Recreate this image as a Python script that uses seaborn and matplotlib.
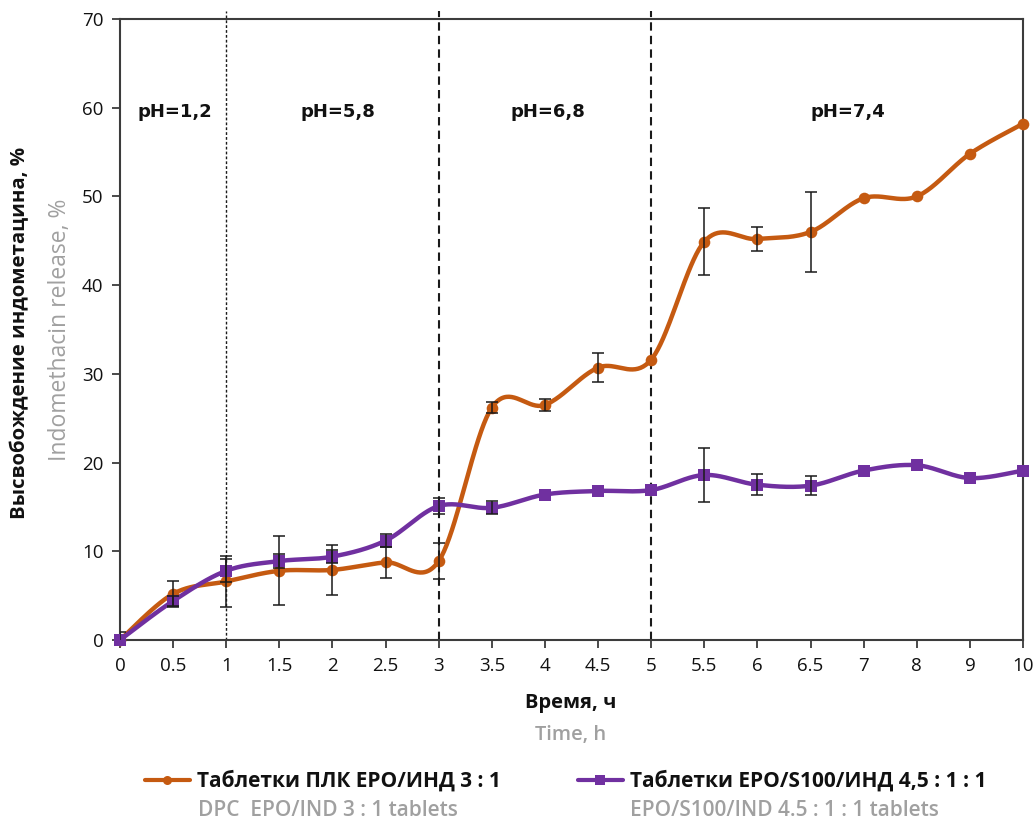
import numpy as np
import pandas as pd
import seaborn as sns
import matplotlib
matplotlib.use("Agg")
import matplotlib.pyplot as plt
from matplotlib.lines import Line2D

# ---------------- data ----------------
time_labels = ["0", "0.5", "1", "1.5", "2", "2.5", "3", "3.5", "4", "4.5",
               "5", "5.5", "6", "6.5", "7", "8", "9", "10"]
release_dpc = [0, 5.2, 6.6, 7.8, 7.9, 8.75, 8.9, 26.2, 26.5, 30.7,
               31.6, 44.9, 45.2, 46.0, 49.8, 50.0, 54.8, 58.2]
err_dpc = [0.9, 1.5, 2.9, 3.9, 2.85, 1.75, 2.05, 0.6, 0.65, 1.6,
           0, 3.8, 1.35, 4.5, 0, 0, 0, 0]
release_s100 = [0, 4.4, 7.8, 8.9, 9.4, 11.2, 15.1, 14.9, 16.4, 16.8,
                16.9, 18.6, 17.5, 17.4, 19.1, 19.7, 18.25, 19.1]
err_s100 = [0, 0.6, 1.3, 0.8, 0.7, 0.7, 0.9, 0.75, 0, 0,
            0, 3.0, 1.2, 1.05, 0, 0, 0, 0]

legend_ru = ["Таблетки ПЛК EPO/ИНД 3 : 1", "Таблетки EPO/S100/ИНД 4,5 : 1 : 1"]
legend_en = ["DPC  EPO/IND 3 : 1 tablets", "EPO/S100/IND 4.5 : 1 : 1 tablets"]
phase_bounds = ["1", "3", "5"]
phase_labels = ["pH=1,2", "pH=5,8", "pH=6,8", "pH=7,4"]
phase_label_pos = [1.03, 4.1, 8.05, 13.7]

ORANGE = "#C55A11"
PURPLE = "#7030A0"
GRAY = "#A0A0A0"
SPINE = "#3C3C3C"
BLACK = "#111111"

OPEN = ["Open Sans", "DejaVu Sans"]

sns.set_theme(style="white")
plt.rcParams["font.family"] = OPEN

x_idx = np.arange(len(time_labels))


def smooth(xs, ys, n=40):
    P = np.column_stack([xs, ys]).astype(float)
    out = []
    for i in range(len(P) - 1):
        p0 = P[i - 1] if i > 0 else P[i]
        p1, p2 = P[i], P[i + 1]
        p3 = P[i + 2] if i + 2 < len(P) else P[i + 1]
        c1 = p1 + (p2 - p0) / 6.0
        c2 = p2 - (p3 - p1) / 6.0
        t = np.linspace(0, 1, n, endpoint=(i == len(P) - 2))[:, None]
        seg = (1 - t) ** 3 * p1 + 3 * (1 - t) ** 2 * t * c1 + 3 * (1 - t) * t ** 2 * c2 + t ** 3 * p2
        out.append(seg)
    return np.vstack(out)


fig = plt.figure(figsize=(10.36, 8.22), dpi=100)
ax = fig.add_axes([120 / 1036, 1 - 640 / 822, (1023 - 120) / 1036, (640 - 19) / 822])

series = [(release_dpc, err_dpc, ORANGE, "o", 70), (release_s100, err_s100, PURPLE, "s", 80)]
for vals, errs, col, mk, area in series:
    sm = smooth(x_idx, vals)
    df_s = pd.DataFrame({"x": sm[:, 0], "y": sm[:, 1]})
    sns.lineplot(data=df_s, x="x", y="y", sort=False, estimator=None, color=col,
                 lw=3.2, ax=ax, zorder=3)
    df_p = pd.DataFrame({"x": x_idx, "y": vals})
    sns.scatterplot(data=df_p, x="x", y="y", marker=mk, s=area,
                    color=col, edgecolor=col, linewidth=0, ax=ax, zorder=4, clip_on=False)
    e = np.array(errs)
    mask = e > 0
    ax.errorbar(x_idx[mask], np.array(vals)[mask], yerr=e[mask], fmt="none",
                ecolor="#1a1a1a", elinewidth=1.1, capsize=4.5, capthick=1.1, zorder=5)

# phase boundaries
for j, b in enumerate(phase_bounds):
    xb = time_labels.index(b)
    if j == 0:
        ax.plot([xb, xb], [0, 70.9], color="#1a1a1a", lw=1.0, ls=(0, (2, 1.5)),
                clip_on=False, zorder=2)
    else:
        ax.plot([xb, xb], [0, 70.9], color="#1a1a1a", lw=1.5, ls=(0, (4, 2.5)),
                clip_on=False, zorder=2)

for lbl, xp in zip(phase_labels, phase_label_pos):
    ax.text(xp, 59.5, lbl, ha="center", va="center", fontsize=13, fontweight="bold",
            family=["DejaVu Sans"], color=BLACK)

ax.set_xlim(0, len(time_labels) - 1)
ax.set_ylim(0, 70)
ax.set_xticks(x_idx)
ax.set_xticklabels(time_labels, family=OPEN, fontsize=13.5, color=BLACK)
ax.set_yticks(np.arange(0, 71, 10))
ax.set_yticklabels([str(v) for v in range(0, 71, 10)], family=OPEN, fontsize=13.5, color=BLACK)
ax.tick_params(axis="both", which="major", direction="out", length=6, width=1.3,
               color=SPINE, bottom=True, left=True, pad=6)
ax.set_xlabel("")
ax.set_ylabel("")
for sp in ax.spines.values():
    sp.set_visible(True)
    sp.set_color(SPINE)
    sp.set_linewidth(1.5)

# axis titles
fig.text(571 / 1036, 1 - 703 / 822, "Время, ч", ha="center", va="center",
         fontsize=14.5, fontweight="bold", family=OPEN, color=BLACK)
fig.text(571 / 1036, 1 - 735 / 822, "Time, h", ha="center", va="center",
         fontsize=14.5, fontweight="semibold", family=OPEN, color=GRAY)
fig.text(20 / 1036, 1 - 333 / 822, "Высвобождение индометацина, %", rotation=90,
         ha="center", va="center", fontsize=14.7, fontweight="bold", family=OPEN, color=BLACK)
fig.text(60 / 1036, 1 - 330 / 822, "Indomethacin release, %", rotation=90,
         ha="center", va="center", fontsize=16.5, family=OPEN, color=GRAY)

# legend
leg_pos = [145, 578]
text_pos = [198, 630]
for k, (col, mk) in enumerate([(ORANGE, "o"), (PURPLE, "s")]):
    h = Line2D([], [], color=col, lw=3.0, marker=mk, markersize=6.5 if mk == "o" else 7,
               markeredgewidth=0)
    lg = fig.legend(handles=[h], labels=[legend_ru[k]], loc="center left",
                    bbox_to_anchor=(leg_pos[k] / 1036, 1 - 781 / 822), frameon=False,
                    borderpad=0, borderaxespad=0, handlelength=2.15, handletextpad=0.33,
                    prop={"family": OPEN, "size": 15, "weight": "bold"})
    for t in lg.get_texts():
        t.set_color(BLACK)
    fig.text(text_pos[k] / 1036, 1 - 810 / 822, legend_en[k], ha="left", va="center",
             fontsize=15, fontweight="semibold", family=OPEN, color=GRAY)

fig.savefig("out.png", dpi=100)
